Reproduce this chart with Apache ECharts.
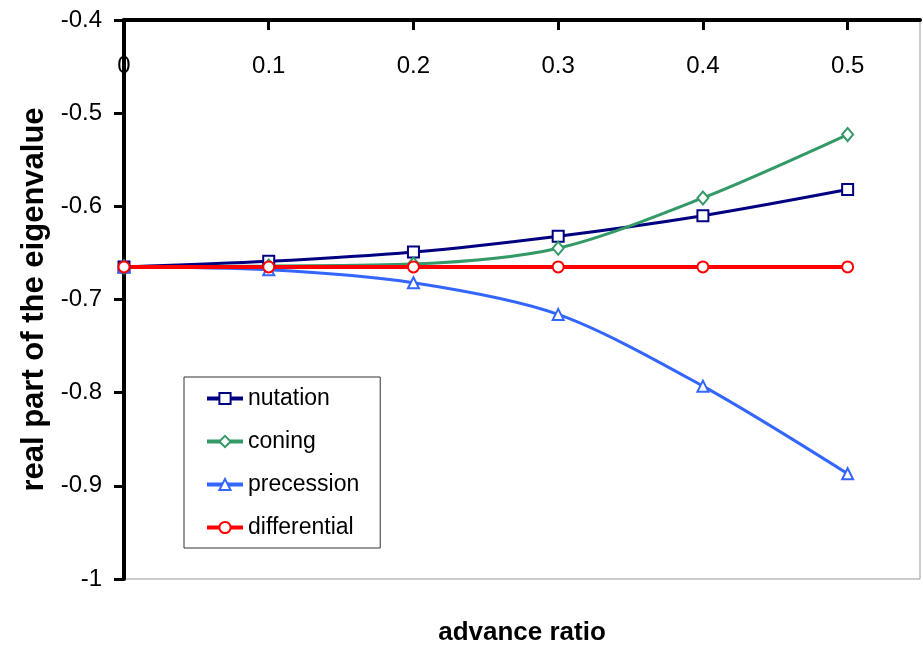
<!DOCTYPE html>
<html>
<head>
<meta charset="utf-8">
<script src="https://cdn.jsdelivr.net/npm/echarts@6/dist/echarts.min.js"></script>
<style>
  html, body { margin: 0; padding: 0; background: #fff; }
  #chart { width: 923px; height: 645px; }
</style>
</head>
<body>
<div id="chart"></div>
<script>
// advance ratio (x) and real part of eigenvalue per mode
const advanceRatio = [0, 0.1, 0.2, 0.3, 0.4, 0.5]
const nutation = [-0.665, -0.659, -0.649, -0.632, -0.610, -0.582]
const coning = [-0.665, -0.664, -0.662, -0.645, -0.591, -0.523]
const precession = [-0.665, -0.668, -0.682, -0.716, -0.793, -0.887]
const differential = [-0.665, -0.665, -0.665, -0.665, -0.665, -0.665]
const xTicks = [0, 0.1, 0.2, 0.3, 0.4, 0.5]

const pairs = ys => advanceRatio.map((x, i) => [x, ys[i]])

const font = 'Liberation Sans'

const makeSeries = (name, ys, color, symbol, width) => ({
    name: name,
    type: 'line',
    data: pairs(ys),
    smooth: 0.3,
    symbol: symbol,
    symbolSize: symbol === 'emptyDiamond' ? [11, 13] : 11,
    lineStyle: { color: color, width: width },
    itemStyle: { color: color, borderWidth: 1.3 }
})

const chart = echarts.init(document.getElementById('chart'))

chart.setOption({
    animation: false,
    backgroundColor: '#fff',
    grid: {
        left: 124, top: 20, width: 796, height: 559,
        show: true, borderColor: '#999', borderWidth: 1
    },
    legend: {
        orient: 'vertical',
        left: 184, top: 377,
        padding: [10, 21, 9, 21],
        itemGap: 20,
        itemWidth: 36,
        itemHeight: 14,
        borderColor: '#333',
        borderWidth: 1,
        lineStyle: { width: 4 },
        textStyle: { fontFamily: font, fontSize: 23, color: '#000', lineHeight: 23 },
        data: ['nutation', 'coning', 'precession', 'differential']
    },
    xAxis: {
        type: 'value',
        position: 'top',
        min: 0, max: 0.55, interval: 0.1,
        axisLine: { onZero: false, lineStyle: { color: '#000', width: 4 } },
        axisTick: { inside: true, length: 10, lineStyle: { color: '#000', width: 3 }, customValues: xTicks },
        axisLabel: { inside: true, margin: 34, fontFamily: font, fontSize: 24, color: '#000', customValues: xTicks },
        splitLine: { show: false }
    },
    yAxis: {
        type: 'value',
        min: -1, max: -0.4, interval: 0.1,
        name: 'real part of the eigenvalue',
        nameLocation: 'middle',
        nameRotate: 90,
        nameGap: 74,
        nameTextStyle: { fontFamily: font, fontSize: 31, fontWeight: 'bold', color: '#000' },
        axisLine: { onZero: false, lineStyle: { color: '#000', width: 4 } },
        axisTick: { length: 10, lineStyle: { color: '#000', width: 3 } },
        axisLabel: { margin: 22, fontFamily: font, fontSize: 24, color: '#000' },
        splitLine: { show: false }
    },
    graphic: [{
        type: 'text',
        x: 522, y: 633,
        style: {
            text: 'advance ratio',
            font: 'bold 26px "Liberation Sans"',
            fill: '#000',
            textAlign: 'center',
            textVerticalAlign: 'middle'
        }
    }],
    series: [
        makeSeries('nutation', nutation, '#000080', 'emptyRect', 3),
        makeSeries('coning', coning, '#339966', 'emptyDiamond', 3),
        makeSeries('precession', precession, '#3366FF', 'emptyTriangle', 3),
        makeSeries('differential', differential, '#FF0000', 'emptyCircle', 4)
    ]
})
</script>
</body>
</html>
